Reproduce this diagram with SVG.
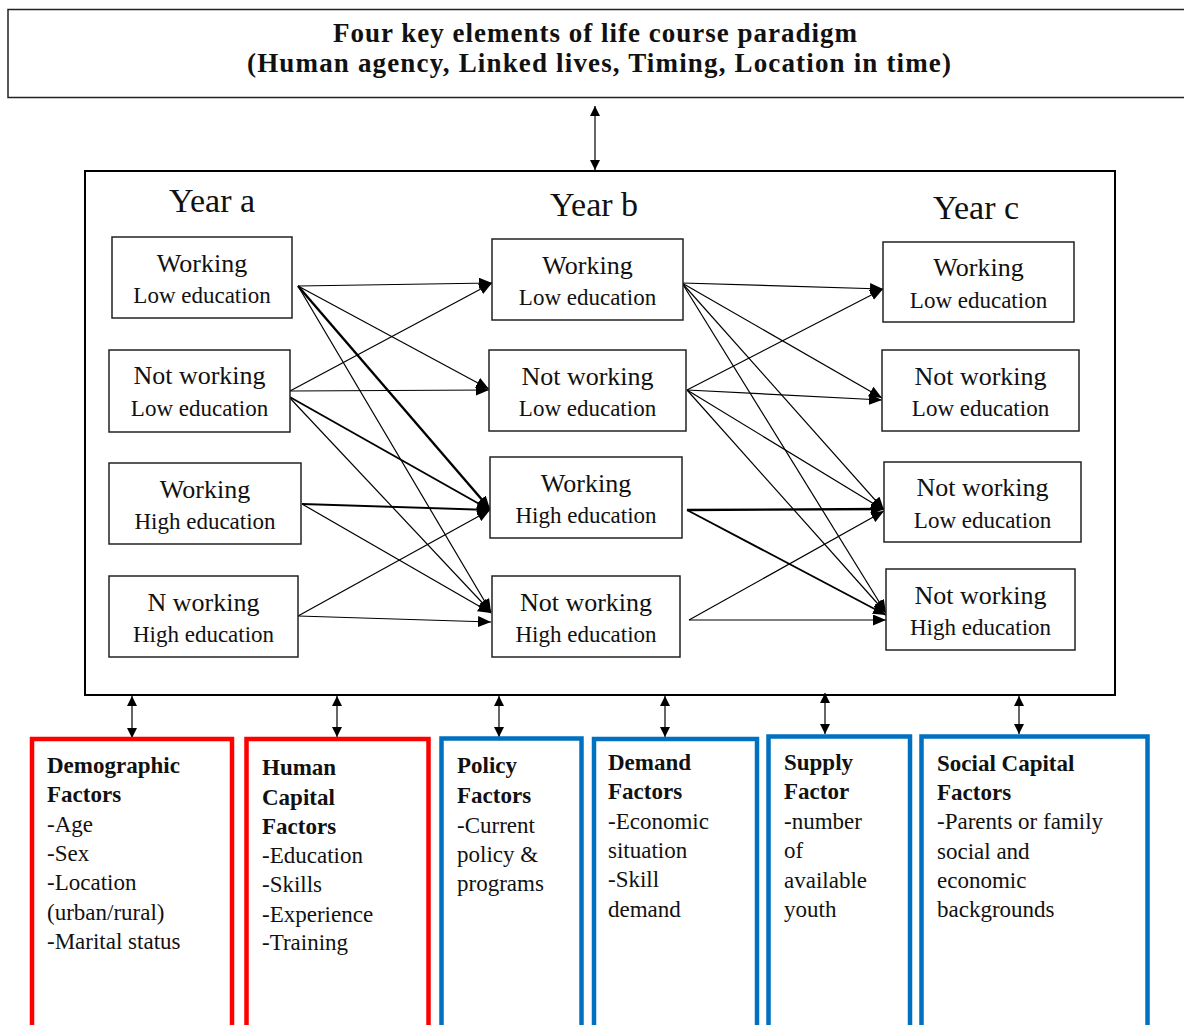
<svg xmlns="http://www.w3.org/2000/svg" width="1184" height="1025" viewBox="0 0 1184 1025">
<style>
text{font-family:"Liberation Serif","Times New Roman",serif;fill:#111}
.title{font-size:27px;font-weight:bold;text-anchor:middle}
.year{font-size:34px;text-anchor:middle}
.n1{font-size:26px;text-anchor:middle}
.n2{font-size:23px;text-anchor:middle}
.box{fill:#fff;stroke:#222;stroke-width:1.5}
.red{fill:#fff;stroke:#FF0000;stroke-width:4.5}
.blue{fill:#fff;stroke:#0070C0;stroke-width:4.5}
.f{font-size:23px}
.fb{font-size:23px;font-weight:bold}
.c{fill:none;stroke:#000;stroke-width:1.2;marker-end:url(#ah)}
.t{stroke-width:2.4}
.m{stroke-width:1.8}
.d{fill:none;stroke:#000;stroke-width:1.2;marker-start:url(#sh);marker-end:url(#sh)}
</style>
<defs>
<marker id="ah" markerUnits="userSpaceOnUse" markerWidth="13" markerHeight="11" refX="13" refY="5.5" orient="auto"><path d="M0,0 L13,5.5 L0,11 z" fill="#000"/></marker>
<marker id="sh" markerUnits="userSpaceOnUse" markerWidth="10" markerHeight="10" refX="10" refY="5" orient="auto-start-reverse"><path d="M0,0 L10,5 L0,10 z" fill="#000"/></marker>
</defs>
<rect width="1184" height="1025" fill="#fff"/>

<g id="top">
<rect x="8" y="9.5" width="1190" height="88" class="box"/>
<text class="title" x="595" y="42" textLength="524">Four key elements of  life course paradigm</text>
<text class="title" x="599" y="72" textLength="704">(Human agency, Linked lives, Timing, Location in time)</text>
</g>

<g id="main">
<rect x="85" y="171" width="1030" height="524" fill="#fff" stroke="#000" stroke-width="2"/>
<text class="year" x="212" y="212">Year a</text>
<text class="year" x="594" y="216">Year b</text>
<text class="year" x="976" y="219">Year c</text>
</g>

<g id="connectors">
<line class="d" x1="595" y1="106" x2="595" y2="170"/>
<line class="d" x1="132" y1="696" x2="132" y2="738"/>
<line class="d" x1="337" y1="696" x2="337" y2="737"/>
<line class="d" x1="499" y1="696" x2="499" y2="737"/>
<line class="d" x1="665" y1="696" x2="665" y2="737"/>
<line class="d" x1="825" y1="693" x2="825" y2="734"/>
<line class="d" x1="1019" y1="696" x2="1019" y2="734"/>

<line class="c" x1="298" y1="286" x2="492" y2="283"/>
<line class="c" x1="298" y1="286" x2="489" y2="389"/>
<line class="c t" x1="298" y1="286" x2="490" y2="509"/>
<line class="c" x1="298" y1="286" x2="491" y2="612"/>
<line class="c" x1="290" y1="391" x2="492" y2="283"/>
<line class="c" x1="290" y1="391" x2="489" y2="390"/>
<line class="c m" x1="288" y1="396" x2="490" y2="510"/>
<line class="c" x1="288" y1="396" x2="491" y2="612"/>
<line class="c m" x1="302" y1="504" x2="490" y2="510"/>
<line class="c" x1="302" y1="504" x2="491" y2="613"/>
<line class="c" x1="298" y1="616" x2="490" y2="510"/>
<line class="c" x1="298" y1="616" x2="491" y2="622"/>

<line class="c" x1="682" y1="283" x2="883" y2="289"/>
<line class="c" x1="682" y1="283" x2="882" y2="398"/>
<line class="c" x1="682" y1="283" x2="884" y2="510"/>
<line class="c" x1="682" y1="283" x2="886" y2="613"/>
<line class="c" x1="687" y1="390" x2="883" y2="289"/>
<line class="c" x1="687" y1="390" x2="882" y2="400"/>
<line class="c" x1="687" y1="390" x2="884" y2="510"/>
<line class="c" x1="687" y1="390" x2="886" y2="613"/>
<line class="c t" x1="687" y1="510" x2="884" y2="509"/>
<line class="c m" x1="687" y1="510" x2="886" y2="615"/>
<line class="c" x1="689" y1="620" x2="884" y2="511"/>
<line class="c" x1="689" y1="620" x2="886" y2="620"/>
</g>

<g id="a1"><rect x="112" y="237" width="180" height="81" class="box"/><text class="n1" x="202" y="272">Working</text><text class="n2" x="202" y="303">Low education</text></g>
<g id="a2"><rect x="109" y="350" width="181" height="82" class="box"/><text class="n1" x="199.5" y="384">Not working</text><text class="n2" x="199.5" y="416">Low education</text></g>
<g id="a3"><rect x="109" y="463" width="192" height="81" class="box"/><text class="n1" x="205" y="498">Working</text><text class="n2" x="205" y="529">High education</text></g>
<g id="a4"><rect x="109" y="576" width="189" height="81" class="box"/><text class="n1" x="203.5" y="611">N working</text><text class="n2" x="203.5" y="642">High education</text></g>

<g id="b1"><rect x="492" y="239" width="191" height="81" class="box"/><text class="n1" x="587.5" y="274">Working</text><text class="n2" x="587.5" y="305">Low education</text></g>
<g id="b2"><rect x="489" y="350" width="197" height="81" class="box"/><text class="n1" x="587.5" y="385">Not working</text><text class="n2" x="587.5" y="416">Low education</text></g>
<g id="b3"><rect x="490" y="457" width="192" height="81" class="box"/><text class="n1" x="586" y="492">Working</text><text class="n2" x="586" y="523">High education</text></g>
<g id="b4"><rect x="492" y="576" width="188" height="81" class="box"/><text class="n1" x="586" y="611">Not working</text><text class="n2" x="586" y="642">High education</text></g>

<g id="c1"><rect x="883" y="242" width="191" height="80" class="box"/><text class="n1" x="978.5" y="276">Working</text><text class="n2" x="978.5" y="308">Low education</text></g>
<g id="c2"><rect x="882" y="350" width="197" height="81" class="box"/><text class="n1" x="980.5" y="385">Not working</text><text class="n2" x="980.5" y="416">Low education</text></g>
<g id="c3"><rect x="884" y="462" width="197" height="80" class="box"/><text class="n1" x="982.5" y="496">Not working</text><text class="n2" x="982.5" y="528">Low education</text></g>
<g id="c4"><rect x="886" y="569" width="189" height="81" class="box"/><text class="n1" x="980.5" y="604">Not working</text><text class="n2" x="980.5" y="635">High education</text></g>

<g id="demographic"><rect x="32" y="739" width="200" height="295" class="red"/>
<text class="fb" x="47" y="773">Demographic</text><text class="fb" x="47" y="802">Factors</text>
<text class="f" x="47" y="832">-Age</text><text class="f" x="47" y="861">-Sex</text><text class="f" x="47" y="890">-Location</text><text class="f" x="47" y="920">(urban/rural)</text><text class="f" x="47" y="949">-Marital status</text></g>

<g id="human"><rect x="246.5" y="739" width="182" height="295" class="red"/>
<text class="fb" x="262" y="775">Human</text><text class="fb" x="262" y="805">Capital</text><text class="fb" x="262" y="834">Factors</text>
<text class="f" x="262" y="863">-Education</text><text class="f" x="262" y="892">-Skills</text><text class="f" x="262" y="922">-Experience</text><text class="f" x="262" y="950">-Training</text></g>

<g id="policy"><rect x="441.5" y="738.5" width="140" height="295" class="blue"/>
<text class="fb" x="457" y="773">Policy</text><text class="fb" x="457" y="803">Factors</text>
<text class="f" x="457" y="833">-Current</text><text class="f" x="457" y="862">policy &amp;</text><text class="f" x="457" y="891">programs</text></g>

<g id="demand"><rect x="594" y="739" width="163" height="295" class="blue"/>
<text class="fb" x="608" y="770">Demand</text><text class="fb" x="608" y="799">Factors</text>
<text class="f" x="608" y="829">-Economic</text><text class="f" x="608" y="858">situation</text><text class="f" x="608" y="887">-Skill</text><text class="f" x="608" y="917">demand</text></g>

<g id="supply"><rect x="768.5" y="736.5" width="141.5" height="297" class="blue"/>
<text class="fb" x="784" y="770">Supply</text><text class="fb" x="784" y="799">Factor</text>
<text class="f" x="784" y="829">-number</text><text class="f" x="784" y="858">of</text><text class="f" x="784" y="888">available</text><text class="f" x="784" y="917">youth</text></g>

<g id="social"><rect x="921.5" y="736.5" width="226" height="297" class="blue"/>
<text class="fb" x="937" y="771">Social Capital</text><text class="fb" x="937" y="800">Factors</text>
<text class="f" x="937" y="829">-Parents or family</text><text class="f" x="937" y="859">social and</text><text class="f" x="937" y="888">economic</text><text class="f" x="937" y="917">backgrounds</text></g>
</svg>
